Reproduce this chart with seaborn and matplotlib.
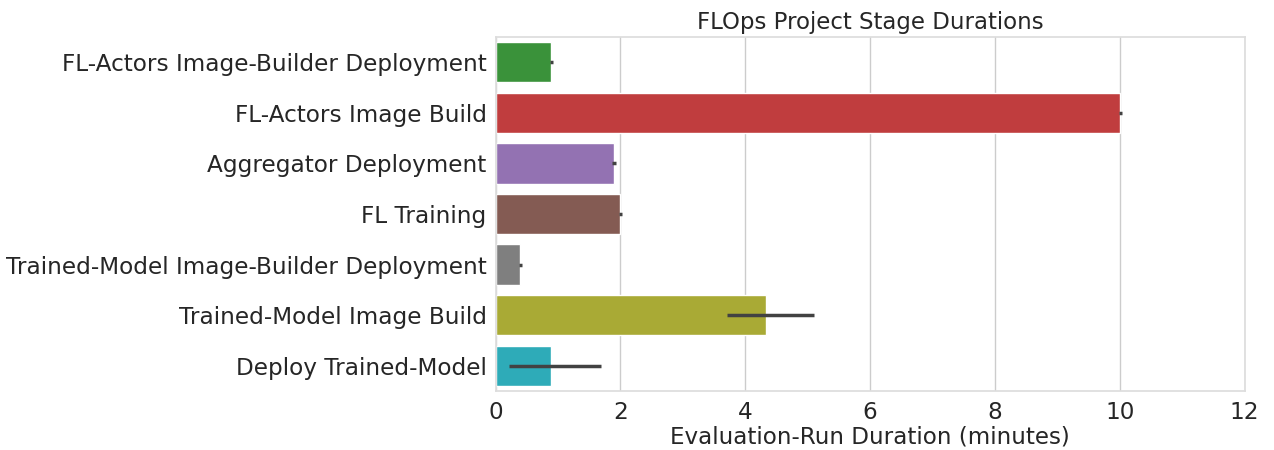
import numpy as np
import pandas as pd
import matplotlib
matplotlib.use("Agg")
import matplotlib.pyplot as plt
import seaborn as sns

# stage names (top to bottom) and mean duration in minutes
stages = [
    "FL-Actors Image-Builder Deployment",
    "FL-Actors Image Build",
    "Aggregator Deployment",
    "FL Training",
    "Trained-Model Image-Builder Deployment",
    "Trained-Model Image Build",
    "Deploy Trained-Model",
]
durations = [0.89, 10.0, 1.89, 1.99, 0.39, 4.33, 0.88]
# error bar ranges
err_low = [0.87, 9.98, 1.87, 1.97, 0.37, 3.70, 0.22]
err_high = [0.92, 10.03, 1.93, 2.03, 0.42, 5.10, 1.69]
colors = ["#2ca02c", "#d62728", "#9467bd", "#8c564b", "#7f7f7f", "#bcbd22", "#17becf"]

sns.set_theme(style="whitegrid")
plt.rcParams['font.family'] = ['DejaVu Sans']

df = pd.DataFrame({"Stage": stages, "Duration": durations})

fig, ax = plt.subplots(figsize=(12.74, 4.5), dpi=100)
sns.barplot(data=df, y="Stage", x="Duration", hue="Stage", palette=colors,
            legend=False, ax=ax, errorbar=None)

# error bars
ypos = np.arange(len(stages))
ax.hlines(ypos, err_low, err_high, color=".26", lw=2.5, zorder=3)

ax.set_xlim(0, 12)
ax.set_ylim(len(stages) - 0.5, -0.5)
ax.set_xticks(range(0, 13, 2))
ax.set_xlabel("Evaluation-Run Duration (minutes)", fontsize=16.6, labelpad=1)
ax.set_ylabel("")
ax.set_title("FLOps Project Stage Durations", fontsize=16.5)
ax.tick_params(axis="both", labelsize=16.7, length=0)
ax.tick_params(axis="y", pad=6.5)
ax.tick_params(axis="x", pad=7)
for s in ax.spines.values():
    s.set_color("#dddddd")

fig.subplots_adjust(left=0.389, right=0.977, top=0.918, bottom=0.131)
fig.savefig("out.png", dpi=100)
